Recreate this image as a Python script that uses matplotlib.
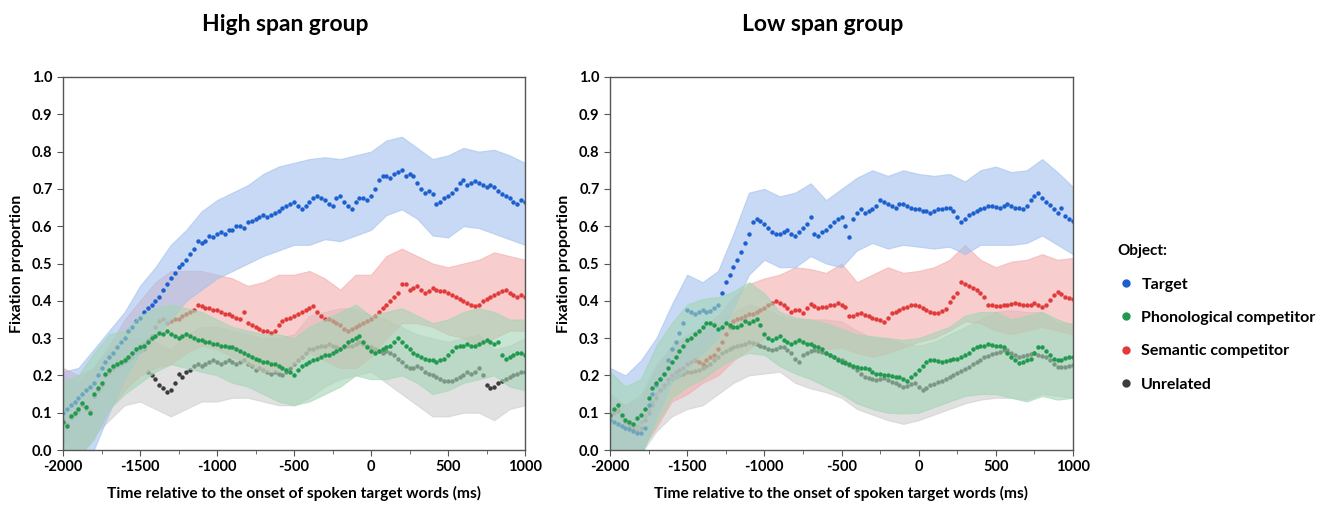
import numpy as np
import matplotlib
matplotlib.use("Agg")
import matplotlib.pyplot as plt
from matplotlib.lines import Line2D
from matplotlib.ticker import MultipleLocator, FormatStrFormatter

plt.rcParams['font.family'] = ['Lato', 'DejaVu Sans']
plt.rcParams['font.weight'] = 'bold'
plt.rcParams['axes.labelweight'] = 'bold'
plt.rcParams['axes.titleweight'] = 'bold'
plt.rcParams['axes.unicode_minus'] = False

# time grids (ms relative to target word onset)
t_dots = np.arange(-2000, 1001, 25)
t_band = np.arange(-2000, 1001, 100)

labels = ['Target', 'Phonological competitor', 'Semantic competitor', 'Unrelated']
colors = {'Target': '#1c5fcf', 'Phonological competitor': '#1f9a4e',
          'Semantic competitor': '#e23a3a', 'Unrelated': '#3c3c3c'}
band_colors = {'Target': '#a3c1ee', 'Phonological competitor': '#a3d5b4',
               'Semantic competitor': '#f3acac', 'Unrelated': '#cdcdcd'}

# ---------------- High span group ----------------
hs_target = [
    0.10, 0.11, 0.12, 0.13, 0.14, 0.15, 0.16, 0.17, 0.18, 0.20,
    0.22, 0.235, 0.25, 0.26, 0.275, 0.29, 0.30, 0.32, 0.33, 0.345,
    0.355, 0.37, 0.38, 0.39, 0.40, 0.41, 0.43, 0.445, 0.46, 0.475,
    0.49, 0.50, 0.51, 0.525, 0.54, 0.56, 0.555, 0.56, 0.575, 0.57,
    0.58, 0.585, 0.58, 0.59, 0.59, 0.60, 0.60, 0.595, 0.61, 0.615,
    0.62, 0.625, 0.63, 0.625, 0.63, 0.635, 0.64, 0.65, 0.655, 0.66,
    0.665, 0.655, 0.645, 0.655, 0.665, 0.675, 0.68, 0.675, 0.67, 0.66,
    0.655, 0.675, 0.68, 0.665, 0.655, 0.645, 0.665, 0.675, 0.675, 0.67,
    0.68, 0.70, 0.725, 0.735, 0.735, 0.73, 0.74, 0.745, 0.75, 0.735,
    0.74, 0.735, 0.715, 0.70, 0.69, 0.695, 0.685, 0.66, 0.665, 0.675,
    0.68, 0.69, 0.70, 0.715, 0.725, 0.71, 0.715, 0.72, 0.715, 0.71,
    0.705, 0.71, 0.705, 0.695, 0.685, 0.68, 0.675, 0.665, 0.66, 0.67,
    0.665]
hs_phon = [
    0.075, 0.065, 0.09, 0.10, 0.11, 0.125, 0.115, 0.10, 0.15, 0.165,
    0.18, 0.205, 0.215, 0.225, 0.23, 0.235, 0.24, 0.25, 0.26, 0.27,
    0.275, 0.28, 0.29, 0.30, 0.305, 0.315, 0.31, 0.32, 0.31, 0.305,
    0.30, 0.305, 0.31, 0.305, 0.30, 0.295, 0.295, 0.29, 0.29, 0.285,
    0.285, 0.28, 0.28, 0.275, 0.275, 0.27, 0.265, 0.26, 0.255, 0.25,
    0.245, 0.24, 0.235, 0.235, 0.23, 0.23, 0.225, 0.22, 0.215, 0.21,
    0.20, 0.215, 0.225, 0.23, 0.235, 0.24, 0.245, 0.25, 0.255, 0.255,
    0.26, 0.265, 0.27, 0.28, 0.29, 0.295, 0.30, 0.305, 0.29, 0.275,
    0.265, 0.26, 0.265, 0.27, 0.275, 0.28, 0.29, 0.30, 0.29, 0.28,
    0.27, 0.26, 0.255, 0.25, 0.245, 0.24, 0.24, 0.235, 0.24, 0.245,
    0.255, 0.265, 0.275, 0.28, 0.28, 0.285, 0.28, 0.28, 0.285, 0.29,
    0.295, 0.29, 0.285, 0.29, 0.255, 0.245, 0.25, 0.255, 0.26, 0.26,
    0.255]
hs_sem = [
    0.08, 0.07, 0.09, 0.10, 0.11, 0.12, 0.115, 0.105, 0.145, 0.16,
    0.175, 0.20, 0.21, 0.22, 0.23, 0.235, 0.245, 0.25, 0.26, 0.27,
    0.28, 0.285, 0.295, 0.305, 0.33, 0.345, 0.35, 0.34, 0.345, 0.35,
    0.35, 0.36, 0.365, 0.37, 0.375, 0.39, 0.385, 0.38, 0.38, 0.375,
    0.375, 0.37, 0.365, 0.365, 0.36, 0.355, 0.35, 0.37, 0.34, 0.335,
    0.33, 0.325, 0.32, 0.32, 0.315, 0.32, 0.335, 0.345, 0.35, 0.355,
    0.36, 0.365, 0.37, 0.375, 0.38, 0.385, 0.37, 0.36, 0.35, 0.35,
    0.345, 0.34, 0.335, 0.325, 0.32, 0.325, 0.33, 0.335, 0.34, 0.345,
    0.35, 0.36, 0.37, 0.38, 0.39, 0.40, 0.41, 0.42, 0.445, 0.445,
    0.43, 0.435, 0.44, 0.43, 0.42, 0.425, 0.435, 0.43, 0.425, 0.425,
    0.42, 0.415, 0.41, 0.405, 0.40, 0.395, 0.39, 0.385, 0.39, 0.40,
    0.405, 0.41, 0.415, 0.42, 0.425, 0.43, 0.42, 0.415, 0.41, 0.415,
    0.41]
hs_unrel = [
    0.07, 0.065, 0.085, 0.095, 0.105, 0.12, 0.11, 0.10, 0.145, 0.16,
    0.18, 0.20, 0.21, 0.22, 0.225, 0.23, 0.235, 0.24, 0.25, 0.26,
    0.265, 0.27, 0.21, 0.20, 0.19, 0.175, 0.165, 0.155, 0.16, 0.18,
    0.205, 0.195, 0.21, 0.215, 0.225, 0.23, 0.225, 0.23, 0.235, 0.24,
    0.235, 0.23, 0.235, 0.24, 0.235, 0.23, 0.235, 0.24, 0.23, 0.225,
    0.215, 0.22, 0.215, 0.21, 0.205, 0.21, 0.205, 0.20, 0.21, 0.22,
    0.23, 0.24, 0.25, 0.26, 0.27, 0.27, 0.275, 0.28, 0.28, 0.285,
    0.28, 0.275, 0.27, 0.275, 0.28, 0.28, 0.285, 0.29, 0.285, 0.28,
    0.275, 0.27, 0.265, 0.26, 0.265, 0.26, 0.255, 0.245, 0.235, 0.225,
    0.22, 0.22, 0.225, 0.22, 0.21, 0.205, 0.20, 0.195, 0.19, 0.185,
    0.185, 0.185, 0.19, 0.195, 0.20, 0.21, 0.205, 0.21, 0.22, 0.20,
    0.175, 0.165, 0.17, 0.18, 0.185, 0.19, 0.195, 0.20, 0.205, 0.21,
    0.21]

# confidence bands, every 100 ms
hs_target_lo = [0.0, -0.02, 0.0, 0.10, 0.19, 0.26, 0.30, 0.35, 0.40, 0.43, 0.46,
                0.48, 0.50, 0.52, 0.535, 0.55, 0.55, 0.565, 0.56, 0.575, 0.59,
                0.63, 0.645, 0.62, 0.575, 0.57, 0.60, 0.595, 0.58, 0.565, 0.55]
hs_target_hi = [0.21, 0.22, 0.27, 0.32, 0.37, 0.44, 0.49, 0.55, 0.59, 0.64, 0.67,
                0.69, 0.71, 0.74, 0.76, 0.77, 0.78, 0.785, 0.78, 0.79, 0.80,
                0.83, 0.84, 0.81, 0.78, 0.79, 0.81, 0.80, 0.805, 0.79, 0.77]
hs_phon_lo = [-0.02, -0.02, 0.03, 0.11, 0.15, 0.18, 0.21, 0.23, 0.22, 0.21, 0.20,
              0.18, 0.17, 0.15, 0.13, 0.12, 0.13, 0.15, 0.17, 0.20, 0.19,
              0.19, 0.20, 0.18, 0.15, 0.16, 0.18, 0.19, 0.20, 0.17, 0.16]
hs_phon_hi = [0.18, 0.20, 0.26, 0.31, 0.32, 0.36, 0.38, 0.39, 0.38, 0.37, 0.35,
              0.33, 0.32, 0.31, 0.31, 0.30, 0.33, 0.35, 0.37, 0.39, 0.36,
              0.37, 0.38, 0.36, 0.34, 0.35, 0.37, 0.38, 0.37, 0.35, 0.35]
hs_sem_lo = [0.02, -0.02, 0.03, 0.11, 0.16, 0.20, 0.22, 0.23, 0.26, 0.28, 0.27,
             0.25, 0.23, 0.21, 0.21, 0.23, 0.26, 0.24, 0.22, 0.22, 0.25,
             0.30, 0.34, 0.34, 0.33, 0.31, 0.30, 0.28, 0.30, 0.32, 0.32]
hs_sem_hi = [0.22, 0.20, 0.22, 0.28, 0.35, 0.40, 0.45, 0.48, 0.48, 0.48, 0.47,
             0.46, 0.44, 0.45, 0.47, 0.47, 0.48, 0.46, 0.43, 0.47, 0.47,
             0.52, 0.54, 0.52, 0.50, 0.49, 0.50, 0.51, 0.53, 0.52, 0.51]
hs_unrel_lo = [-0.02, -0.02, 0.04, 0.08, 0.12, 0.13, 0.11, 0.09, 0.11, 0.13, 0.13,
               0.14, 0.14, 0.13, 0.12, 0.12, 0.14, 0.17, 0.19, 0.20, 0.21,
               0.18, 0.15, 0.12, 0.09, 0.09, 0.10, 0.10, 0.08, 0.11, 0.12]
hs_unrel_hi = [0.20, 0.18, 0.22, 0.27, 0.30, 0.30, 0.29, 0.27, 0.31, 0.33, 0.33,
               0.32, 0.31, 0.30, 0.30, 0.31, 0.36, 0.37, 0.38, 0.38, 0.36,
               0.35, 0.33, 0.31, 0.30, 0.29, 0.30, 0.31, 0.27, 0.28, 0.30]

# ---------------- Low span group ----------------
ls_target = [
    0.08, 0.075, 0.07, 0.065, 0.06, 0.055, 0.05, 0.045, 0.045, 0.06,
    0.12, 0.15, 0.175, 0.19, 0.205, 0.24, 0.27, 0.29, 0.315, 0.34,
    0.375, 0.37, 0.365, 0.37, 0.375, 0.37, 0.372, 0.38, 0.39, 0.42,
    0.45, 0.47, 0.49, 0.51, 0.53, 0.555, 0.58, 0.61, 0.62, 0.615,
    0.605, 0.595, 0.585, 0.58, 0.58, 0.585, 0.59, 0.58, 0.575, 0.585,
    0.595, 0.605, 0.625, 0.58, 0.575, 0.585, 0.59, 0.60, 0.61, 0.62,
    0.625, 0.60, 0.57, 0.62, 0.635, 0.645, 0.635, 0.64, 0.645, 0.655,
    0.67, 0.665, 0.66, 0.655, 0.65, 0.66, 0.66, 0.655, 0.65, 0.645,
    0.645, 0.64, 0.64, 0.635, 0.64, 0.645, 0.645, 0.65, 0.65, 0.64,
    0.625, 0.61, 0.62, 0.63, 0.635, 0.64, 0.645, 0.65, 0.655, 0.655,
    0.652, 0.65, 0.655, 0.66, 0.655, 0.65, 0.648, 0.645, 0.655, 0.67,
    0.68, 0.69, 0.675, 0.665, 0.657, 0.645, 0.635, 0.65, 0.628, 0.62,
    0.615]
ls_phon = [
    0.095, 0.11, 0.12, 0.095, 0.08, 0.075, 0.07, 0.085, 0.095, 0.11,
    0.14, 0.165, 0.18, 0.19, 0.205, 0.22, 0.235, 0.25, 0.265, 0.28,
    0.295, 0.30, 0.31, 0.32, 0.33, 0.34, 0.34, 0.335, 0.325, 0.33,
    0.34, 0.335, 0.33, 0.33, 0.335, 0.345, 0.34, 0.345, 0.35, 0.335,
    0.31, 0.30, 0.295, 0.30, 0.305, 0.295, 0.29, 0.285, 0.29, 0.295,
    0.29, 0.285, 0.285, 0.28, 0.275, 0.27, 0.26, 0.255, 0.25, 0.24,
    0.235, 0.232, 0.23, 0.225, 0.222, 0.22, 0.22, 0.218, 0.21, 0.205,
    0.205, 0.20, 0.20, 0.198, 0.197, 0.195, 0.19, 0.185, 0.195, 0.205,
    0.215, 0.225, 0.235, 0.24, 0.24, 0.238, 0.235, 0.238, 0.24, 0.245,
    0.245, 0.25, 0.255, 0.26, 0.27, 0.275, 0.28, 0.28, 0.283, 0.282,
    0.28, 0.278, 0.275, 0.26, 0.25, 0.24, 0.232, 0.235, 0.24, 0.245,
    0.26, 0.275, 0.275, 0.265, 0.255, 0.245, 0.24, 0.242, 0.246, 0.248,
    0.25]
ls_sem = [
    0.09, 0.10, 0.105, 0.09, 0.075, 0.065, 0.055, 0.05, 0.06, 0.08,
    0.10, 0.12, 0.14, 0.16, 0.175, 0.19, 0.20, 0.21, 0.215, 0.22,
    0.23, 0.235, 0.24, 0.235, 0.23, 0.24, 0.25, 0.255, 0.27, 0.29,
    0.31, 0.33, 0.345, 0.35, 0.355, 0.36, 0.365, 0.365, 0.37, 0.375,
    0.38, 0.39, 0.395, 0.40, 0.395, 0.39, 0.38, 0.37, 0.375, 0.375,
    0.368, 0.38, 0.392, 0.385, 0.38, 0.383, 0.384, 0.388, 0.39, 0.393,
    0.39, 0.384, 0.358, 0.36, 0.365, 0.367, 0.362, 0.358, 0.355, 0.35,
    0.348, 0.344, 0.355, 0.367, 0.37, 0.375, 0.38, 0.384, 0.388, 0.39,
    0.385, 0.38, 0.375, 0.37, 0.368, 0.367, 0.372, 0.378, 0.397, 0.41,
    0.42, 0.451, 0.445, 0.44, 0.435, 0.43, 0.42, 0.41, 0.39, 0.388,
    0.385, 0.386, 0.389, 0.39, 0.392, 0.393, 0.392, 0.39, 0.389, 0.39,
    0.393, 0.39, 0.384, 0.39, 0.402, 0.415, 0.424, 0.418, 0.411, 0.408,
    0.406]
ls_unrel = [
    0.095, 0.105, 0.11, 0.09, 0.078, 0.07, 0.065, 0.065, 0.075, 0.09,
    0.11, 0.13, 0.15, 0.16, 0.17, 0.18, 0.19, 0.195, 0.20, 0.205,
    0.21, 0.21, 0.212, 0.215, 0.22, 0.225, 0.23, 0.24, 0.25, 0.26,
    0.265, 0.27, 0.275, 0.28, 0.282, 0.285, 0.29, 0.288, 0.285, 0.28,
    0.277, 0.272, 0.268, 0.27, 0.275, 0.277, 0.268, 0.26, 0.245, 0.237,
    0.255, 0.26, 0.265, 0.268, 0.266, 0.262, 0.259, 0.255, 0.25, 0.245,
    0.24, 0.235, 0.228, 0.223, 0.215, 0.205, 0.197, 0.192, 0.19, 0.188,
    0.19, 0.192, 0.188, 0.183, 0.179, 0.175, 0.17, 0.172, 0.176, 0.179,
    0.17, 0.162, 0.165, 0.175, 0.178, 0.182, 0.186, 0.19, 0.195, 0.20,
    0.206, 0.212, 0.218, 0.223, 0.23, 0.236, 0.241, 0.248, 0.253, 0.258,
    0.261, 0.264, 0.267, 0.268, 0.26, 0.255, 0.25, 0.252, 0.255, 0.258,
    0.259, 0.256, 0.252, 0.248, 0.24, 0.23, 0.223, 0.222, 0.223, 0.226,
    0.228]

ls_target_lo = [0.0, -0.02, -0.02, 0.09, 0.18, 0.22, 0.26, 0.30, 0.38, 0.47, 0.51,
                0.49, 0.49, 0.52, 0.50, 0.49, 0.535, 0.555, 0.54, 0.55, 0.545,
                0.54, 0.545, 0.525, 0.55, 0.55, 0.55, 0.555, 0.575, 0.55, 0.525]
ls_target_hi = [0.22, 0.20, 0.24, 0.30, 0.39, 0.47, 0.45, 0.48, 0.58, 0.69, 0.70,
                0.68, 0.69, 0.715, 0.67, 0.70, 0.73, 0.75, 0.735, 0.75, 0.74,
                0.735, 0.74, 0.72, 0.75, 0.76, 0.745, 0.75, 0.78, 0.745, 0.705]
ls_phon_lo = [-0.02, -0.02, -0.01, 0.07, 0.14, 0.17, 0.19, 0.22, 0.245, 0.26, 0.255,
              0.225, 0.205, 0.19, 0.17, 0.15, 0.125, 0.11, 0.10, 0.098, 0.10,
              0.115, 0.13, 0.145, 0.15, 0.15, 0.14, 0.13, 0.145, 0.135, 0.14]
ls_phon_hi = [0.21, 0.17, 0.19, 0.28, 0.34, 0.39, 0.405, 0.41, 0.425, 0.45, 0.42,
              0.37, 0.355, 0.35, 0.34, 0.325, 0.31, 0.305, 0.30, 0.295, 0.30,
              0.315, 0.33, 0.36, 0.37, 0.37, 0.35, 0.36, 0.37, 0.35, 0.335]
ls_sem_lo = [-0.02, -0.02, 0.0, 0.06, 0.13, 0.15, 0.18, 0.20, 0.24, 0.27, 0.30,
             0.31, 0.29, 0.28, 0.27, 0.275, 0.26, 0.25, 0.26, 0.275, 0.29,
             0.30, 0.32, 0.345, 0.34, 0.32, 0.31, 0.32, 0.33, 0.32, 0.31]
ls_sem_hi = [0.15, 0.12, 0.14, 0.22, 0.28, 0.31, 0.33, 0.36, 0.41, 0.445, 0.46,
             0.47, 0.49, 0.485, 0.475, 0.50, 0.45, 0.47, 0.49, 0.475, 0.48,
             0.49, 0.51, 0.55, 0.51, 0.49, 0.505, 0.51, 0.525, 0.51, 0.515]
ls_unrel_lo = [-0.02, -0.02, -0.01, 0.05, 0.09, 0.11, 0.12, 0.15, 0.18, 0.20, 0.205,
               0.21, 0.18, 0.165, 0.155, 0.14, 0.11, 0.095, 0.08, 0.07, 0.08,
               0.095, 0.11, 0.125, 0.135, 0.14, 0.14, 0.135, 0.15, 0.145, 0.14]
ls_unrel_hi = [0.14, 0.12, 0.15, 0.23, 0.28, 0.30, 0.31, 0.34, 0.37, 0.39, 0.38,
               0.36, 0.35, 0.35, 0.35, 0.345, 0.32, 0.30, 0.30, 0.285, 0.28,
               0.29, 0.31, 0.33, 0.35, 0.37, 0.375, 0.37, 0.37, 0.34, 0.34]

panels = [
    ('High span group', 0.48, {
        'Target': (hs_target, hs_target_lo, hs_target_hi),
        'Phonological competitor': (hs_phon, hs_phon_lo, hs_phon_hi),
        'Semantic competitor': (hs_sem, hs_sem_lo, hs_sem_hi),
        'Unrelated': (hs_unrel, hs_unrel_lo, hs_unrel_hi)}),
    ('Low span group', 0.46, {
        'Target': (ls_target, ls_target_lo, ls_target_hi),
        'Phonological competitor': (ls_phon, ls_phon_lo, ls_phon_hi),
        'Semantic competitor': (ls_sem, ls_sem_lo, ls_sem_hi),
        'Unrelated': (ls_unrel, ls_unrel_lo, ls_unrel_hi)}),
]

fig = plt.figure(figsize=(13.3, 5.14), dpi=100)
ax_rects = [[63 / 1330, 64 / 514, 462 / 1330, 373 / 514],
            [610 / 1330, 64 / 514, 463 / 1330, 373 / 514]]

# draw order: later bands wash over earlier dots
draw_order = ['Unrelated', 'Semantic competitor', 'Target', 'Phonological competitor']

for rect, (title, title_x, series) in zip(ax_rects, panels):
    ax = fig.add_axes(rect)
    for k, name in enumerate(draw_order):
        mean, lo, hi = series[name]
        ax.fill_between(t_band, lo, hi, color=band_colors[name], alpha=0.6,
                        edgecolor=band_colors[name], linewidth=0.8,
                        zorder=2 + 2 * k)
        ax.plot(t_dots, mean, 'o', color=colors[name], markersize=3.2,
                markeredgewidth=0, zorder=3 + 2 * k)
    ax.set_xlim(-2000, 1000)
    ax.set_ylim(0, 1)
    ax.xaxis.set_major_locator(MultipleLocator(500))
    ax.xaxis.set_minor_locator(MultipleLocator(250))
    ax.yaxis.set_major_locator(MultipleLocator(0.1))
    ax.yaxis.set_major_formatter(FormatStrFormatter('%.1f'))
    ax.tick_params(which='both', direction='out', color='#555555', labelsize=10.5)
    ax.tick_params(which='major', length=4)
    ax.tick_params(which='minor', length=3)
    for sp in ax.spines.values():
        sp.set_color('#555555')
        sp.set_linewidth(1)
        sp.set_zorder(20)
    ax.set_title(title, fontsize=16.5, pad=33, x=title_x)
    ax.set_xlabel('Time relative to the onset of spoken target words (ms)',
                  fontsize=11.2, labelpad=8)
    ax.set_ylabel('Fixation proportion', fontsize=11.5, labelpad=6)

handles = [Line2D([], [], marker='o', linestyle='none', color=colors[n],
                  markersize=6, markeredgewidth=0) for n in labels]
leg = fig.legend(handles, labels, loc='upper left',
                 bbox_to_anchor=(1103 / 1330, 1 - 230 / 514), frameon=False,
                 title='Object:', fontsize=11.5, labelspacing=1.2,
                 handletextpad=0.4, handlelength=1.1, alignment='left')
leg.get_title().set_fontweight('bold')
leg.get_title().set_fontsize(11)

fig.savefig('out.png', dpi=100)
